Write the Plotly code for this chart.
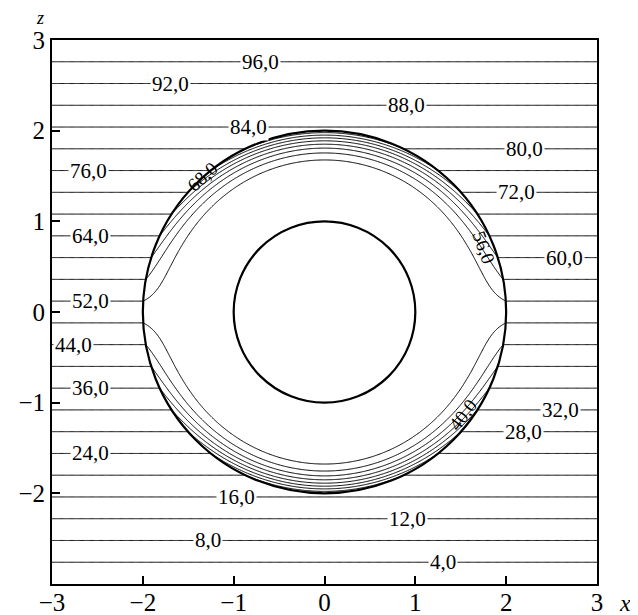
import numpy as np
import plotly.graph_objects as go

# ---- data -------------------------------------------------------------
levels = [4, 8, 12, 16, 20, 24, 28, 32, 36, 40, 44, 48,
          52, 56, 60, 64, 68, 72, 76, 80, 84, 88, 92, 96]
value_bottom, value_top = 0.0, 100.0      # field value at z=-3 and z=+3
outer_radius = 2.0                         # outer circle
inner_radius = 1.0                         # inner circle
layer_start = 1.58                         # radius where the inner field starts to vary
layer_power = 1.8

x_ticks = [-3, -2, -1, 0, 1, 2, 3]
z_ticks = [-2, -1, 0, 1, 2, 3]

# labelled levels on the straight lines and their x positions
label_levels = [96, 92, 88, 84, 80, 76, 72, 64, 60, 52, 44, 36, 32, 28, 24, 16, 12, 8, 4]
label_x = [-0.70, -1.69, 0.90, -0.84, 2.20, -2.60, 2.11, -2.58, 2.64, -2.58,
           -2.76, -2.58, 2.60, 2.19, -2.58, -0.97, 0.91, -1.28, 1.31]
# labels on the curved part: (level, x, z, angle)
curved_labels = [(68, -1.34, 1.49, -42), (56, 1.745, 0.717, 70), (40, 1.515, -1.136, -53)]

# ---- field -------------------------------------------------------------
def far_field(z):
    return value_bottom + (value_top - value_bottom) * (z + 3.0) / 6.0

n = 601
xs = np.linspace(-3, 3, n)
zs = np.linspace(-3, 3, n)
X, Z = np.meshgrid(xs, zs)
R = np.hypot(X, Z)
mid = far_field(0.0)
g = np.clip((R - layer_start) / (outer_radius - layer_start), 0, 1) ** layer_power
T = np.where(R >= outer_radius, far_field(Z), mid + (far_field(Z) - mid) * g)
T = T.astype(np.float32)

fig = go.Figure()
fig.add_trace(go.Contour(
    x=xs, y=zs, z=T,
    contours=dict(start=levels[0], end=levels[-1], size=levels[1] - levels[0],
                  coloring="none", showlabels=False),
    line=dict(color="black", width=1),
    showscale=False, hoverinfo="skip",
))

for r in (outer_radius, inner_radius):
    fig.add_shape(type="circle", xref="x", yref="y", x0=-r, y0=-r, x1=r, y1=r,
                  line=dict(color="black", width=2.2), layer="above")

font_lab = dict(family="Liberation Serif", size=21, color="black")

def fmt(v):
    return f"{v:.1f}".replace(".", ",")

for L, xv in zip(label_levels, label_x):
    fig.add_annotation(x=xv, y=-3 + 6 * (L - value_bottom) / (value_top - value_bottom),
                       xref="x", yref="y", text=fmt(L), showarrow=False,
                       font=font_lab, bgcolor="white", borderpad=1)
for L, xv, zv, ang in curved_labels:
    fig.add_annotation(x=xv, y=zv, xref="x", yref="y", text=fmt(L), showarrow=False,
                       font=dict(family="Liberation Serif", size=19, color="black"),
                       textangle=ang)

fig.add_annotation(xref="paper", yref="paper", x=-0.022, y=1.0404, text="<i>z</i>",
                   xanchor="center", yanchor="middle", showarrow=False,
                   font=dict(family="Liberation Serif", size=18, color="black"))
fig.add_annotation(xref="paper", yref="paper", x=1.051, y=-0.035, text="<i>x</i>",
                   xanchor="center", yanchor="middle", showarrow=False,
                   font=dict(family="Liberation Serif", size=24, color="black"))

axis_common = dict(showgrid=False, zeroline=False, showline=True, mirror=True,
                   linecolor="black", linewidth=1.8, ticks="inside", ticklen=8,
                   tickwidth=1.5, tickcolor="black", automargin=False,
                   tickfont=dict(family="Liberation Serif", size=25, color="black"))
fig.update_xaxes(range=[-3, 3], tickvals=x_ticks, ticklabelstandoff=-5, **axis_common)
fig.update_yaxes(range=[-3, 3], tickvals=z_ticks, **axis_common)

fig.update_layout(
    width=630, height=612,
    margin=dict(l=44, r=41, t=32, b=36),
    plot_bgcolor="white", paper_bgcolor="white",
    showlegend=False,
)
fig.write_html("out.html")
